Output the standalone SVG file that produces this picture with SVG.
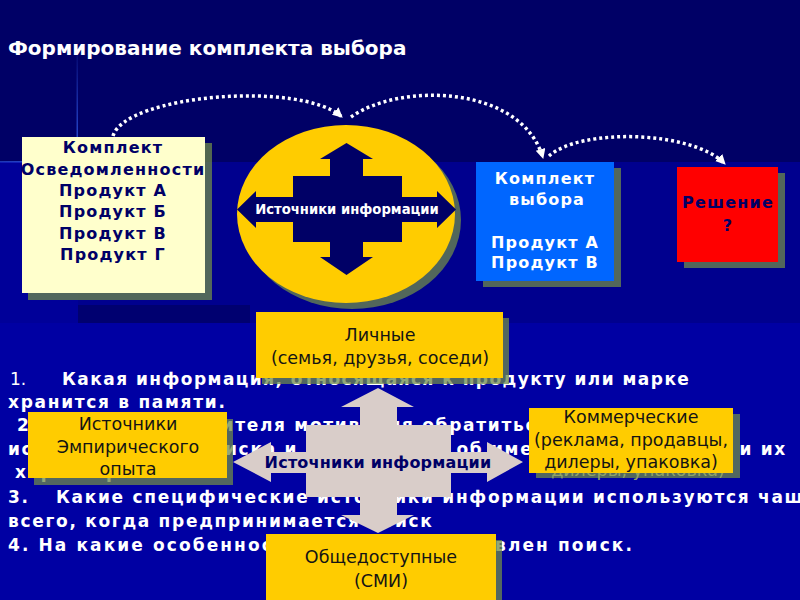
<svg xmlns="http://www.w3.org/2000/svg" width="800" height="600" viewBox="0 0 800 600">
  <defs>
    <style>
      .shd { fill: #6E8A4A; fill-opacity: 0.75; }
      .bt { font-family: "DejaVu Sans", "Liberation Sans", sans-serif; font-weight: bold; text-anchor: middle; }
      .navy { fill: #000066; }
      .white { fill: #FFFFFF; }
      .yb { fill: #FFCC00; }
      .yt { font-family: "DejaVu Sans", "Liberation Sans", sans-serif; font-size: 17.5px; fill: #141414; text-anchor: middle; }
      .lst { font-family: "DejaVu Sans", "Liberation Sans", sans-serif; font-weight: bold; font-size: 17px; fill: #FFFFFF; letter-spacing: 1.7px; }
      .lstn { font-family: "DejaVu Sans", "Liberation Sans", sans-serif; font-size: 17px; fill: #FFFFFF; }
      .dot { fill: none; stroke: #FFFFFF; stroke-width: 3.5; stroke-dasharray: 3 3; }
    </style>
    <marker id="ah" markerUnits="userSpaceOnUse" markerWidth="12" markerHeight="12" refX="9" refY="5" orient="auto">
      <path d="M0,0 L10,5 L0,10 z" fill="#FFFFFF"/>
    </marker>
    <linearGradient id="vg" x1="0" y1="0" x2="0" y2="1">
      <stop offset="0" stop-color="#3A6CFF" stop-opacity="0"/>
      <stop offset="1" stop-color="#3A6CFF" stop-opacity="0.8"/>
    </linearGradient>
    <linearGradient id="hg" x1="0" y1="0" x2="1" y2="0">
      <stop offset="0" stop-color="#3A6CFF" stop-opacity="0.5"/>
      <stop offset="1" stop-color="#3A6CFF" stop-opacity="0.9"/>
    </linearGradient>
  </defs>

  <g id="background">
    <rect x="0" y="0" width="800" height="600" fill="#0000A3"/>
    <rect x="0" y="0" width="800" height="162" fill="#000066"/>
    <rect x="78" y="162" width="722" height="161" fill="#00008E"/>
    <rect x="0" y="162" width="78" height="161" fill="#000099"/>
    <rect x="78" y="305" width="172" height="18" fill="#000070"/>
    <rect x="76.5" y="40" width="1.5" height="122" fill="url(#vg)"/>
    <rect x="0" y="161" width="78" height="1.5" fill="url(#hg)"/>
  </g>

  <g id="title">
    <text x="8" y="55" font-family="DejaVu Sans, Liberation Sans, sans-serif" font-weight="bold" font-size="20" fill="#FFFFFF">Формирование комплекта выбора</text>
  </g>

  <g id="node-awareness">
    <rect class="shd" x="28" y="143" width="184" height="157"/>
    <rect x="22" y="137" width="183" height="156" fill="#FFFFCC"/>
    <g class="bt navy" font-size="16" letter-spacing="1.2">
      <text x="113" y="153">Комплект</text>
      <text x="113" y="175">Осведомленности</text>
      <text x="113" y="196">Продукт А</text>
      <text x="113" y="217">Продукт Б</text>
      <text x="113" y="239">Продукт В</text>
      <text x="113" y="260">Продукт Г</text>
    </g>
  </g>

  <g id="node-sources-top">
    <ellipse class="shd" cx="352" cy="220" rx="109" ry="89"/>
    <ellipse cx="346" cy="214" rx="109" ry="89" fill="#FFCC00"/>
    <path class="navy" d="M346.5,143 L373,159 L363,159 L363,176 L402,176 L402,197 L437,197 L437,191 L456,209.5 L437,228 L437,222 L402,222 L402,242 L363,242 L363,257 L373,257 L346.5,275 L320,257 L330,257 L330,242 L293,242 L293,222 L256,222 L256,228 L237,209.5 L256,191 L256,197 L293,197 L293,176 L330,176 L330,159 L320,159 Z"/>
    <text class="bt white" x="347" y="214" font-size="13.2">Источники информации</text>
  </g>

  <g id="node-choice">
    <rect class="shd" x="483" y="168" width="138" height="119"/>
    <rect x="476" y="162" width="138" height="119" fill="#0066FF"/>
    <g class="bt white" font-size="16" letter-spacing="1.2">
      <text x="545" y="184">Комплект</text>
      <text x="547" y="205">выбора</text>
      <text x="545" y="248">Продукт А</text>
      <text x="545" y="268">Продукт В</text>
    </g>
  </g>

  <g id="node-decision">
    <rect class="shd" x="684" y="173" width="101" height="95"/>
    <rect x="677" y="167" width="101" height="95" fill="#FF0000"/>
    <g class="bt navy" font-size="16" letter-spacing="1.2">
      <text x="728" y="208">Решение</text>
      <text x="728" y="231">?</text>
    </g>
  </g>

  <g id="connectors">
    <path class="dot" d="M113,136 C125,95 300,80 342,117" marker-end="url(#ah)"/>
    <path class="dot" d="M351,117 C400,82 522,85 543,158" marker-end="url(#ah)"/>
    <path class="dot" d="M549,156 C580,128 692,130 725,164" marker-end="url(#ah)"/>
  </g>

  <g id="questions">
    <text class="lstn" x="10" y="385">1.</text>
    <text class="lst" x="62" y="385" style="letter-spacing:1.45px">Какая информация, относящаяся к продукту или марке</text>
    <text class="lst" x="8" y="408">хранится в памяти.</text>
    <text class="lst" x="17" y="431">2. Когда у потребителя мотивация обратиться к</text>
    <text class="lst" x="8" y="455">источникам для поиска и информации об именованных марках и их</text>
    <text class="lst" x="15" y="478">характеристиках:</text>
    <text class="lst" x="8" y="503">3.</text>
    <text class="lst" x="56" y="503">Какие специфические источники информации используются чаще</text>
    <text class="lst" x="8" y="527">всего, когда предпринимается поиск</text>
    <text class="lst" x="8" y="551" style="letter-spacing:2.1px">4. На какие особенности продукта направлен поиск.</text>
  </g>

  <g id="node-sources-bottom">
    <path fill="#D9CDC9" d="M378,388 L414,407 L397,407 L397,425 L451,425 L451,452 L487,452 L487,442 L523,462 L487,482 L487,473 L451,473 L451,497 L397,497 L397,515 L414,515 L378,533 L341,515 L360,515 L360,497 L306,497 L306,473 L271,473 L271,482 L233,462 L271,442 L271,452 L306,452 L306,425 L360,425 L360,407 L341,407 Z"/>
    <text class="bt navy" x="378" y="468" font-size="16" letter-spacing="0.2">Источники информации</text>
  </g>

  <g id="node-personal">
    <rect class="shd" x="262" y="318" width="247" height="66"/>
    <rect class="yb" x="256" y="312" width="247" height="66"/>
    <text class="yt" x="380" y="341">Личные</text>
    <text class="yt" x="380" y="364">(семья, друзья, соседи)</text>
  </g>

  <g id="node-empirical">
    <rect class="shd" x="34" y="419" width="199" height="66"/>
    <rect class="yb" x="28" y="412" width="199" height="66"/>
    <text class="yt" x="128" y="430">Источники</text>
    <text class="yt" x="128" y="453">Эмпирического</text>
    <text class="yt" x="128" y="475">опыта</text>
  </g>

  <g id="node-commercial">
    <rect class="shd" x="536" y="414" width="204" height="64"/>
    <text class="yt" x="638" y="476" style="fill:#8FA466">дилеры, упаковка)</text>
    <rect class="yb" x="529" y="408" width="204" height="65"/>
    <text class="yt" x="631" y="423">Коммерческие</text>
    <text class="yt" x="631" y="446">(реклама, продавцы,</text>
    <text class="yt" x="631" y="468">дилеры, упаковка)</text>
  </g>

  <g id="node-public">
    <rect class="shd" x="272" y="540" width="230" height="66"/>
    <rect class="yb" x="266" y="534" width="230" height="70"/>
    <text class="yt" x="381" y="563">Общедоступные</text>
    <text class="yt" x="381" y="587">(СМИ)</text>
  </g>
</svg>
